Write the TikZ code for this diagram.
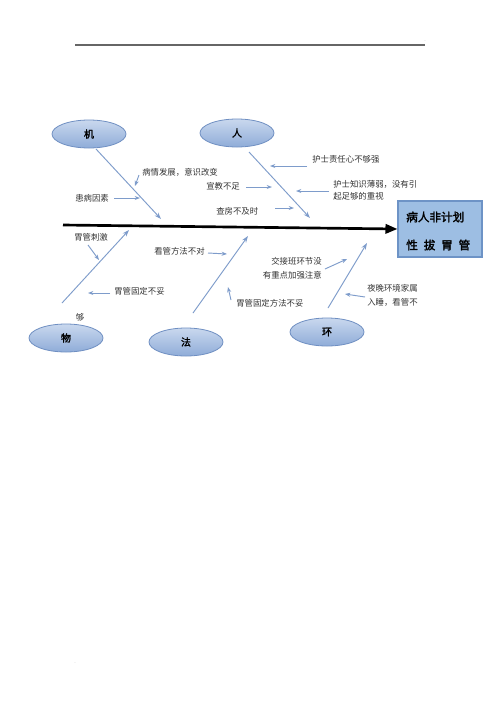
\documentclass[tikz,border=0pt]{standalone}
\usepackage{fontspec}
\setmainfont{Noto Sans CJK SC}
\newfontfamily\cjkb[FakeBold=2]{Noto Sans CJK SC}
\usetikzlibrary{arrows.meta,shapes.geometric}
\definecolor{branch}{HTML}{7E9CCB}
\definecolor{elltop}{HTML}{C9D8EE}
\definecolor{ellbot}{HTML}{8FACD8}
\definecolor{ellborder}{HTML}{6F8FC2}
\definecolor{boxfill}{HTML}{9DBEE3}
\definecolor{boxborder}{HTML}{6D93C6}
\definecolor{txt}{HTML}{333333}
\tikzset{
  cat/.style={ellipse, draw=ellborder, line width=0.6pt, top color=elltop, bottom color=ellbot,
    minimum width=55.5pt, minimum height=21pt, inner sep=0pt, font=\cjkb\fontsize{7.5}{9}\selectfont},
  lbl/.style={inner sep=0pt, text=txt, font=\fontsize{6.3}{9}\selectfont},
  branchline/.style={draw=branch, line width=0.7pt, -{Stealth[length=5pt,width=3.5pt]}},
  subarrow/.style={draw=branch, line width=0.7pt, -{Stealth[length=4pt,width=3pt]}},
}
\begin{document}
\begin{tikzpicture}[x=0.75pt,y=-0.75pt]
\useasboundingbox (0,0) rectangle (500,708);
\fill[white] (0,0) rectangle (500,708);
% header rule
\coordinate (hl) at (75,45);
\coordinate (hr) at (425,45);
\draw[gray!80!black, line width=0.8pt] (hl) -- (hr);
\node[text=gray!60, font=\fontsize{4}{4}\selectfont, inner sep=0pt] (hdot) at (425,41) {.};
\node[text=gray!60, font=\fontsize{4}{4}\selectfont, inner sep=0pt] (fdot) at (75,663) {.};

% effect box
\node[draw=boxborder, fill=boxfill, line width=0.8pt, minimum width=63pt, minimum height=42pt,
      inner sep=0pt] (box) at (440,229) {};
\node[anchor=west, inner sep=0pt, align=left, font=\cjkb\fontsize{8.7}{21}\selectfont] (boxtxt) at (406,231)
      {病人非计划\\\makebox[48pt][s]{性\hfill 拔\hfill 胃\hfill 管}};

% spine
\coordinate (spst) at (63,225);
\draw[black, line width=2pt, -{Triangle[length=9pt,width=7pt]}] (spst) -- (box.west);

% categories
\node[cat] (ji) at (89,134) {机};
\node[cat] (ren) at (237,133) {人};
\node[cat] (wu) at (66,338) {物};
\node[cat] (fa) at (186,342) {法};
\node[cat] (huan) at (327,332) {环};

% main branches
\coordinate (jiS) at (96,149); \coordinate (jiE) at (161,219);
\coordinate (renS) at (249,152); \coordinate (renE) at (310,218);
\coordinate (wuS) at (62,303); \coordinate (wuE) at (129,230);
\coordinate (faS) at (193,313); \coordinate (faE) at (248,236);
\coordinate (huanS) at (328,308); \coordinate (huanE) at (367,243);
\draw[branchline] (jiS) -- (jiE);
\draw[branchline] (renS) -- (renE);
\draw[branchline] (wuS) -- (wuE);
\draw[branchline] (faS) -- (faE);
\draw[branchline] (huanS) -- (huanE);

% 机 causes
\node[lbl, anchor=west] (j1) at (142,172) {病情发展，意识改变};
\coordinate (j1a) at (139,175); \coordinate (j1b) at (135,186);
\draw[subarrow] (j1a) -- (j1b);
\node[lbl, anchor=west] (j2) at (75,198) {患病因素};
\coordinate (j2a) at (114,198); \coordinate (j2b) at (140,198);
\draw[subarrow] (j2a) -- (j2b);

% 人 causes
\node[lbl, anchor=west] (r1) at (312,159) {护士责任心不够强};
\coordinate (r1a) at (307,166); \coordinate (r1b) at (270,166);
\draw[subarrow] (r1a) -- (r1b);
\node[lbl, anchor=west] (r2) at (206,186) {宣教不足};
\coordinate (r2a) at (246,187); \coordinate (r2b) at (272,187);
\draw[subarrow] (r2a) -- (r2b);
\node[lbl, anchor=north west, align=left] (r3) at (333,180.5) {护士知识薄弱，没有引\\起足够的重视};
\coordinate (r3a) at (329,191); \coordinate (r3b) at (296,191);
\draw[subarrow] (r3a) -- (r3b);
\node[lbl, anchor=west] (r4) at (216,211) {查房不及时};
\coordinate (r4a) at (275,208); \coordinate (r4b) at (294,208);
\draw[subarrow] (r4a) -- (r4b);

% 物 causes
\node[lbl, anchor=west] (w1) at (74,237) {胃管刺激};
\coordinate (w1a) at (88,245); \coordinate (w1b) at (99,260);
\draw[subarrow] (w1a) -- (w1b);
\node[lbl, anchor=west] (w2) at (114,291) {胃管固定不妥};
\coordinate (w2a) at (110,293); \coordinate (w2b) at (88,293);
\draw[subarrow] (w2a) -- (w2b);
\node[lbl] (w3) at (80,317) {够};

% 法 causes
\node[lbl, anchor=west] (f1) at (154,251) {看管方法不对};
\coordinate (f1a) at (208,253); \coordinate (f1b) at (227,254);
\draw[subarrow] (f1a) -- (f1b);
\node[lbl, anchor=west] (f2) at (236,303) {胃管固定方法不妥};
\coordinate (f2a) at (231,300); \coordinate (f2b) at (228,287);
\draw[subarrow] (f2a) -- (f2b);

% 环 causes
\node[lbl, anchor=north east, align=right, font=\fontsize{6.3}{10.5}\selectfont] (h1) at (322,257) {交接班环节没\\有重点加强注意};
\coordinate (h1a) at (325,269); \coordinate (h1b) at (347,259);
\draw[subarrow] (h1a) -- (h1b);
\node[lbl, anchor=north west, align=left, font=\fontsize{6.3}{10}\selectfont] (h2) at (367,284.5) {夜晚环境家属\\入睡，看管不};
\coordinate (h2a) at (365,297); \coordinate (h2b) at (345,294);
\draw[subarrow] (h2a) -- (h2b);
\end{tikzpicture}
\end{document}
